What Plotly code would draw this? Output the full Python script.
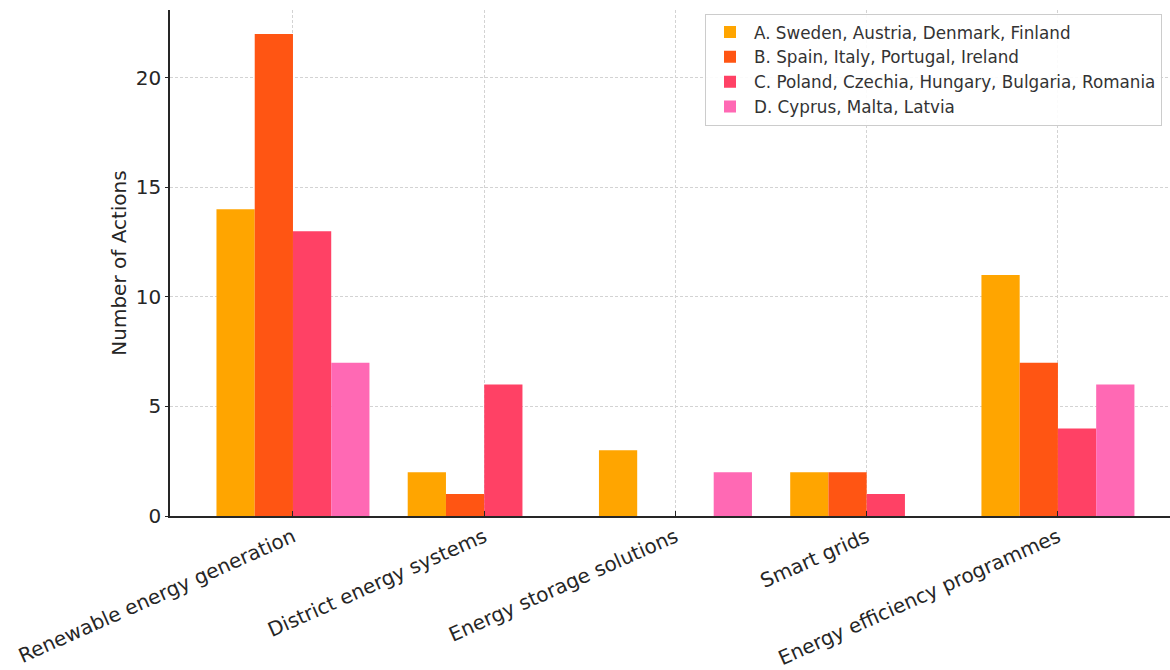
import plotly.graph_objects as go

categories = ["Renewable energy generation", "District energy systems", "Energy storage solutions",
              "Smart grids", "Energy efficiency programmes"]
series_names = ["A. Sweden, Austria, Denmark, Finland",
                "B. Spain, Italy, Portugal, Ireland",
                "C. Poland, Czechia, Hungary, Bulgaria, Romania",
                "D. Cyprus, Malta, Latvia"]
values_a = [14, 2, 3, 2, 11]
values_b = [22, 1, 0, 2, 7]
values_c = [13, 6, 0, 1, 4]
values_d = [7, 0, 2, 0, 6]
colors = ["#FFA500", "#FF5513", "#FF4165", "#FF69B4"]

fig = go.Figure()
for i, (name, vals) in enumerate(zip(series_names, [values_a, values_b, values_c, values_d])):
    fig.add_trace(go.Bar(x=categories, y=vals, name=name, marker_color=colors[i],
                         marker_line_width=0, legendgroup=str(i)))

font_family = "DejaVu Sans"
fig.update_layout(
    width=1170, height=670,
    margin=dict(l=170, r=0, t=10, b=154),
    barmode="group", bargap=0.2, bargroupgap=0,
    plot_bgcolor="white", paper_bgcolor="white",
    font=dict(family=font_family, color="#262626"),
    showlegend=True,
    legend=dict(x=0.535, y=0.993, xanchor="left", yanchor="top",
                bgcolor="rgba(255,255,255,0.9)", bordercolor="#cccccc", borderwidth=1,
                font=dict(size=16.8, color="#333333"), tracegroupgap=0, itemwidth=38),
    xaxis=dict(range=[-0.643, 4.586], tickangle=-24, tickfont=dict(size=20),
               automargin=False,
               showgrid=True, gridcolor="#d3d3d3", griddash="3px,2px", gridwidth=1,
               showline=True, linecolor="#262626", linewidth=1.5,
               ticks="inside", ticklen=5, tickcolor="#262626"),
    yaxis=dict(range=[0, 23.1], tickvals=[0, 5, 10, 15, 20], tickfont=dict(size=20),
               automargin=False,
               showgrid=True, gridcolor="#d3d3d3", griddash="3px,2px", gridwidth=1,
               zeroline=False,
               showline=True, linecolor="#262626", linewidth=1.5,
               ticks="outside", ticklen=3, tickcolor="#262626",
               title=dict(text="Number of Actions", font=dict(size=20), standoff=4)),
)

fig.write_html("out.html")
